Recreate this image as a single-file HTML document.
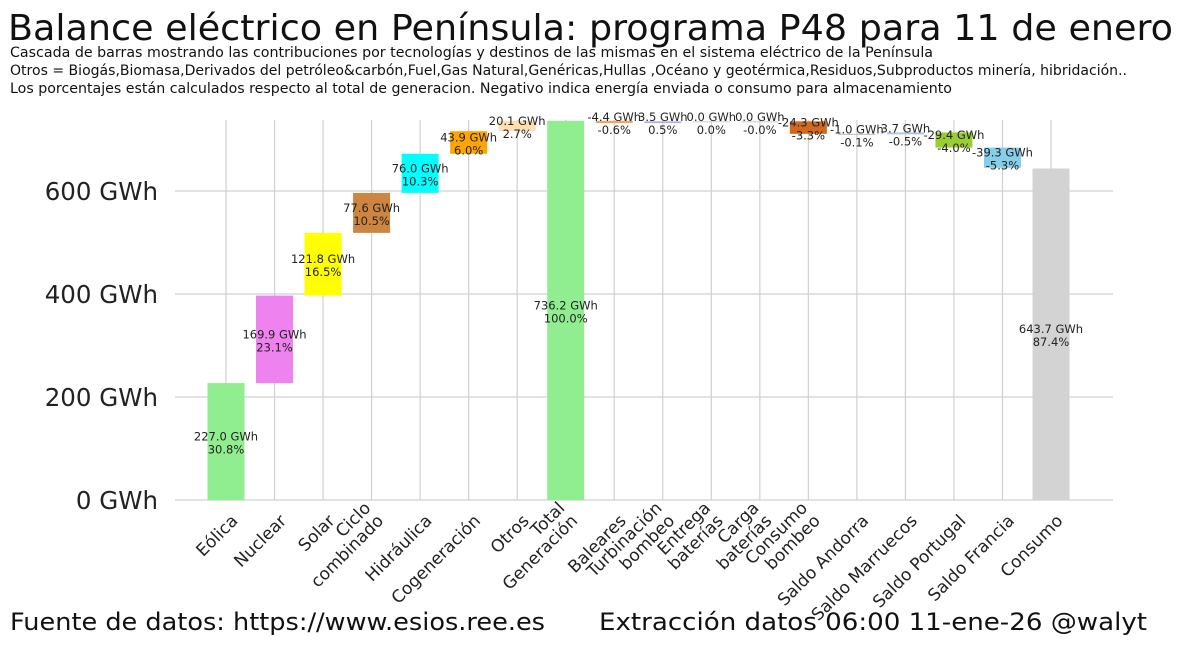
<!DOCTYPE html>
<html><head><meta charset="utf-8"><style>
body{margin:0;background:#fff;width:1199px;height:646px;overflow:hidden;font-family:"Liberation Sans","DejaVu Sans",sans-serif}
</style></head><body>
<svg width="1199" height="646" xmlns="http://www.w3.org/2000/svg" style="font-family:'DejaVu Sans','Liberation Sans',sans-serif">
<text x="8" y="40" font-size="36" fill="#111" textLength="1165" lengthAdjust="spacingAndGlyphs">Balance eléctrico en Península: programa P48 para 11 de enero</text>
<g font-size="14" fill="#111">
<text x="10" y="57" textLength="923" lengthAdjust="spacingAndGlyphs">Cascada de barras mostrando las contribuciones por tecnologías y destinos de las mismas en el sistema eléctrico de la Península</text>
<text x="10" y="75" textLength="1117" lengthAdjust="spacingAndGlyphs">Otros = Biogás,Biomasa,Derivados del petróleo&amp;carbón,Fuel,Gas Natural,Genéricas,Hullas ,Océano y geotérmica,Residuos,Subproductos minería, hibridación..</text>
<text x="10" y="93" textLength="942" lengthAdjust="spacingAndGlyphs">Los porcentajes están calculados respecto al total de generacion. Negativo indica energía enviada o consumo para almacenamiento</text>
</g>
<g id="grid"></g><g id="bars"></g><g id="labels"></g><g id="yt"></g><g id="xt"></g>
<text x="10" y="630" font-size="24" fill="#111" textLength="535" lengthAdjust="spacingAndGlyphs">Fuente de datos: https://www.esios.ree.es</text>
<text x="599" y="630" font-size="24" fill="#111" textLength="548" lengthAdjust="spacingAndGlyphs">Extracción datos 06:00 11-ene-26  @walyt</text>
</svg>
<script>
const categories=["Eólica","Nuclear","Solar","Ciclo\ncombinado","Hidráulica","Cogeneración","Otros","Total\nGeneración","Baleares","Turbinación\nbombeo","Entrega\nbaterías","Carga\nbaterías","Consumo\nbombeo","Saldo Andorra","Saldo Marruecos","Saldo Portugal","Saldo Francia","Consumo"];
const values=[227.0,169.9,121.8,77.6,76.0,43.9,20.1,736.2,-4.4,3.5,0.0,-0.0,-24.3,-1.0,3.7,-29.4,-39.3,643.7];
const percents=["30.8%","23.1%","16.5%","10.5%","10.3%","6.0%","2.7%","100.0%","-0.6%","0.5%","0.0%","-0.0%","-3.3%","-0.1%","-0.5%","-4.0%","-5.3%","87.4%"];
const isTotal=[0,0,0,0,0,0,0,1,0,0,0,0,0,0,0,0,0,1];
const colors=["#90ee90","#ee82ee","#ffff00","#cd853f","#00ffff","#ffa500","#ffdeb3","#90ee90","#f4a460","#b0b0e0","#ccc","#ccc","#d2691e","#bbb","#b0c4de","#9acd32","#87ceeb","#d3d3d3"];
const yTicks=[0,200,400,600];
const NS="http://www.w3.org/2000/svg";
const y=v=>500-v*0.515;
const x=i=>226+i*48.53;
function mk(t,a,p){const e=document.createElementNS(NS,t);for(const k in a)e.setAttribute(k,a[k]);document.getElementById(p).appendChild(e);return e;}
yTicks.forEach(t=>{
 const l=mk('line',{x1:175,x2:1113,y1:y(t),y2:y(t),stroke:'#d0d0d0','stroke-width':1.2},'grid');
 
 
 const tx=mk('text',{x:158,y:y(t)+9,'font-size':24.5,'text-anchor':'end',fill:'#222'},'yt');
 tx.textContent=t+' GWh';
 
 
});
let cum=0;
categories.forEach((c,i)=>{
 const gl=mk('line',{x1:x(i),x2:x(i),y1:120,y2:500,stroke:'#d0d0d0','stroke-width':1.2},'grid');
 
 
 let a,b;
 if(isTotal[i]){a=0;b=values[i];cum=values[i];}
 else{a=cum;b=cum+values[i];cum=b;}
 const top=y(Math.max(a,b)),h=Math.max(Math.abs(y(a)-y(b)),1);
 const r=mk('rect',{x:x(i)-18.5,y:top,width:37,height:h,fill:colors[i]},'bars');
 
 
 const my=top+h/2;
 const t1=mk('text',{x:x(i),y:my-1,'font-size':11.5,'text-anchor':'middle',fill:'#222'},'labels');
 t1.textContent=values[i].toFixed(1)+' GWh';
 
 
 const t2=mk('text',{x:x(i),y:my+12,'font-size':11.5,'text-anchor':'middle',fill:'#222'},'labels');
 t2.textContent=percents[i];
 
 
 const lines=c.split('\n');
 const g=mk('g',{transform:`translate(${x(i)+5},514) rotate(-45)`},'xt');
 
 
 lines.forEach((ln,k)=>{
  const e=document.createElementNS(NS,'text');
  e.setAttribute('x',0);e.setAttribute('y',(k-(lines.length-1))*18+11);
  e.setAttribute('font-size',17);e.setAttribute('text-anchor','end');e.setAttribute('fill','#222');
  e.textContent=ln;g.appendChild(e);
 });
});
</script>
</body></html>
